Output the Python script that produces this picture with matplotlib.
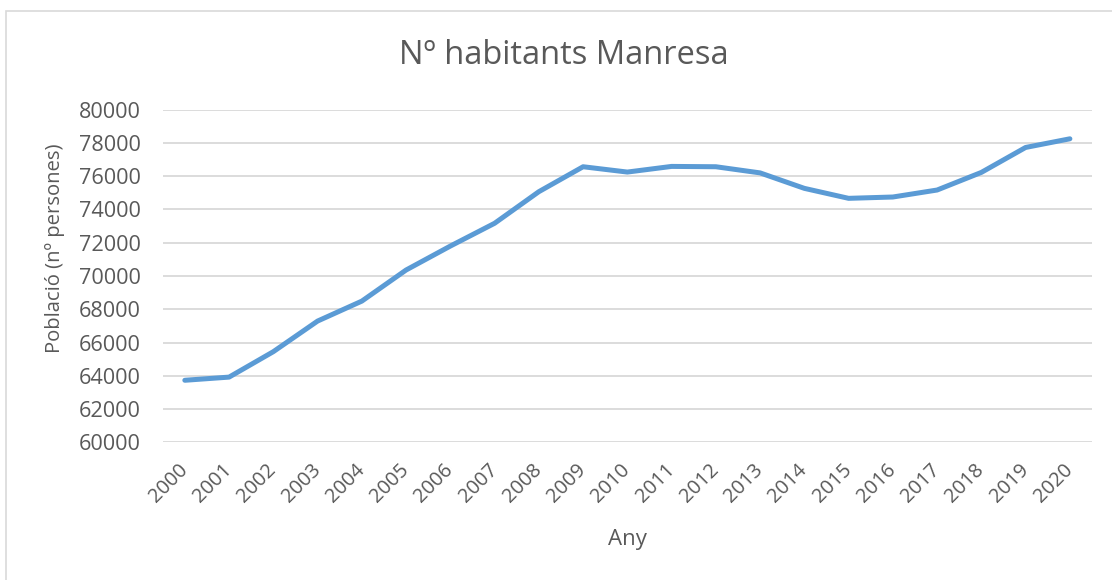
import matplotlib
matplotlib.use('Agg')
import matplotlib.pyplot as plt
from matplotlib.patches import Rectangle

# Data
years = [str(y) for y in range(2000, 2021)]
population = [63730, 63920, 65450, 67290, 68490, 70360, 71800, 73170, 75070, 76570,
              76250, 76590, 76570, 76200, 75270, 74670, 74750, 75170, 76230, 77730, 78250]
y_ticks = [60000, 62000, 64000, 66000, 68000, 70000, 72000, 74000, 76000, 78000, 80000]

text_color = '#595959'
plt.rcParams['font.family'] = ['Open Sans', 'DejaVu Sans']

fig = plt.figure(figsize=(11.12, 5.80), dpi=100)
ax = fig.add_axes([162.7 / 1112, 1 - 442.3 / 580, (1092 - 162.7) / 1112, (442.3 - 109.7) / 580])

x = list(range(len(years)))
ax.plot(x, population, color='#5B9BD5', linewidth=3.6, solid_capstyle='round',
        solid_joinstyle='round', zorder=3)

ax.set_xlim(-0.5, len(years) - 0.5)
ax.set_ylim(60000, 80000)
ax.set_yticks(y_ticks)
ax.set_yticklabels([str(v) for v in y_ticks])
ax.set_xticks(x)
ax.set_xticklabels(years, rotation=45, ha='right', va='center', rotation_mode='anchor')

ax.grid(axis='y', color='#D9D9D9', linewidth=1.3)
ax.set_axisbelow(True)
for s in ax.spines.values():
    s.set_visible(False)
ax.tick_params(axis='both', length=0, colors=text_color)
ax.tick_params(axis='y', pad=16, labelsize=15.6)
ax.tick_params(axis='x', pad=18, labelsize=14.4)

fig.text(564 / 1112, 1 - 55 / 580, 'Nº habitants Manresa', ha='center', va='center',
         fontsize=23.5, color=text_color)
fig.text(627 / 1112, 1 - 540 / 580, 'Any', ha='center', va='center',
         fontsize=16, color=text_color)
fig.text(55 / 1112, 1 - 248 / 580, 'Població (nº persones)', ha='center', va='center',
         rotation=90, fontsize=14.6, color=text_color)

# light chart-area border (only left and top are inside the picture)
fig.patches.append(Rectangle((5.5 / 1112, -0.1), 1.2, 1 - 11 / 580 + 0.1,
                             transform=fig.transFigure, fill=False,
                             edgecolor='#D9D9D9', linewidth=1.2))

fig.savefig('out.png', dpi=100, facecolor='white')
